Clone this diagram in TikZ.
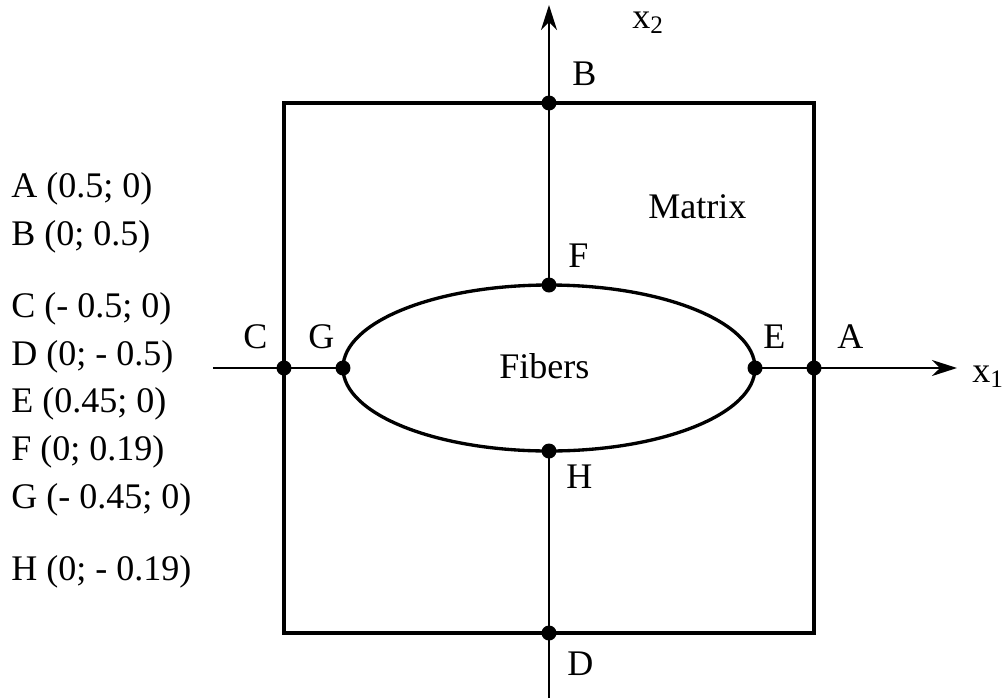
\documentclass[tikz,border=0pt]{standalone}
\usepackage{fontspec}
\setmainfont{Liberation Serif}
\usetikzlibrary{arrows.meta,positioning}

\begin{document}
\begin{tikzpicture}[every node/.style={font=\fontsize{20.5}{24}\selectfont, inner sep=0pt, anchor=base west},
    ptdot/.style={circle,fill=black,inner sep=0pt,minimum size=3mm,anchor=center},
    axis/.style={line width=1pt},
    axisarrow/.style={axis,-{Stealth[length=5mm,width=3.2mm,inset=1.6mm]}}]
        \useasboundingbox (-10.98,-6.6) rectangle (9.06,7.36);
        % cell and fiber
        \draw[line width=2pt] (-5.3,-5.3) rectangle (5.3,5.3);
        \draw[line width=1.9pt] (0,0) ellipse (4.12 and 1.66);
        % points
        \node[ptdot] (A) at (5.3,0) {};
        \node[ptdot] (B) at (0,5.3) {};
        \node[ptdot] (C) at (-5.3,0) {};
        \node[ptdot] (D) at (0,-5.3) {};
        \node[ptdot] (E) at (4.12,0) {};
        \node[ptdot] (F) at (0,1.66) {};
        \node[ptdot] (G) at (-4.12,0) {};
        \node[ptdot] (H) at (0,-1.66) {};
        % axes
        \coordinate (x1from) at (-6.72,0);
        \coordinate (x1to) at (8.16,0);
        \coordinate (x2from) at (0,-6.6);
        \coordinate (x2to) at (0,7.26);
        \draw[axis] (x1from) -- (G.center);
        \draw[axisarrow] (E.center) -- (x1to);
        \draw[axis] (x2from) -- (H.center);
        \draw[axisarrow] (F.center) -- (x2to);
        \node (x1) at (8.46,-0.28) {x\textsubscript{1}};
        \node (x2) at (1.66,6.8) {x\textsubscript{2}};
        % point labels
        \node (labA) at (5.76,0.4) {A};
        \node (labB) at (0.46,5.66) {B};
        \node (labC) at (-6.12,0.4) {C};
        \node (labD) at (0.36,-6.14) {D};
        \node (labE) at (4.28,0.4) {E};
        \node (labF) at (0.38,2.02) {F};
        \node (labG) at (-4.82,0.4) {G};
        \node (labH) at (0.34,-2.4) {H};
        \node (matrix) at (1.98,3.0) {Matrix};
        \node (fibers) at (-1.0,-0.2) {Fibers};
        % coordinates of the points
        \node (lstA) at (-10.76,3.42) {A (0.5; 0)};
        \node (lstB) at (-10.76,2.46) {B (0; 0.5)};
        \node (lstC) at (-10.76,1.02) {C (- 0.5; 0)};
        \node (lstD) at (-10.76,0.06) {D (0; - 0.5)};
        \node (lstE) at (-10.76,-0.88) {E (0.45; 0)};
        \node (lstF) at (-10.76,-1.84) {F (0; 0.19)};
        \node (lstG) at (-10.76,-2.8) {G (- 0.45; 0)};
        \node (lstH) at (-10.76,-4.24) {H (0; - 0.19)};
      \end{tikzpicture}
\end{document}
